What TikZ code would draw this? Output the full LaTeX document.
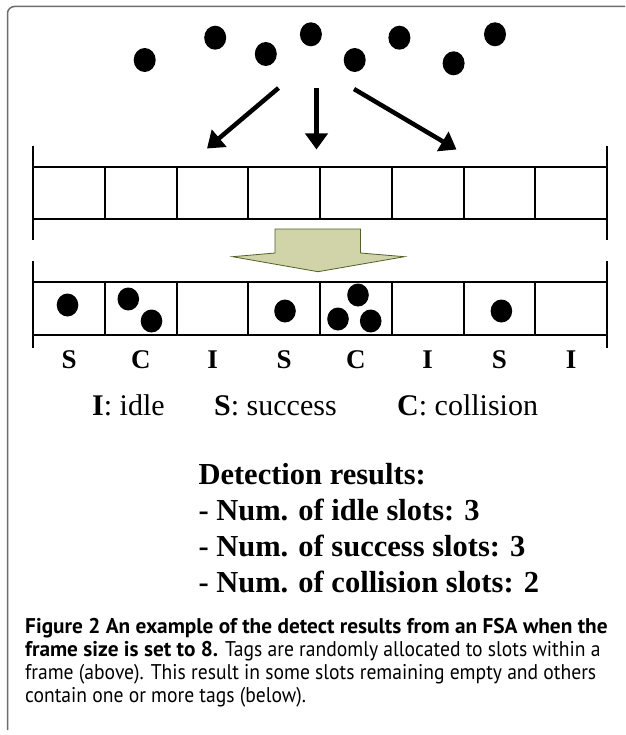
\documentclass[tikz,border=0pt]{standalone}
\usepackage{fontspec}
\setmainfont{Liberation Serif}
\newfontfamily\capreg[FakeStretch=0.92]{PT Sans}
\newfontfamily\capbf{PT Sans}
\usetikzlibrary{arrows.meta}
\definecolor{framegray}{RGB}{110,110,110}
\definecolor{arrowfill}{RGB}{209,211,168}
\definecolor{arrowedge}{RGB}{79,98,40}
\begin{document}
\begin{tikzpicture}[x=1pt,y=-1pt,
  barline/.style={line width=2pt},
  flowarrow/.style={line width=4.5pt, -{Triangle[length=16pt,width=22pt]}},
  slotlabel/.style={font=\fontsize{27}{32}\selectfont\bfseries, anchor=base, inner sep=0pt},
  legendtext/.style={font=\fontsize{30}{36}\selectfont, anchor=base west, inner sep=0pt},
  resulttext/.style={font=\fontsize{30.5}{36}\selectfont\bfseries, anchor=base west, inner sep=0pt},
  captext/.style={font=\capreg\fontsize{21.3}{25}\selectfont, anchor=base west, inner sep=0pt}
]
\useasboundingbox (0,0) rectangle (625,735);
\fill[white] (0,0) rectangle (625,735);

% outer frame (open on the right and bottom)
\draw[framegray, line width=1.5pt, rounded corners=7pt] (7.5,730) -- (7.5,6.5) -- (625,6.5);

% tags above the frame
\foreach \x/\y in {144.7/60, 215.2/37.7, 265.8/54, 310.9/34.3, 354.7/60, 399.4/37.7, 453.6/63.3, 495/34.3}
  \fill (\x,\y) ellipse [x radius=11pt, y radius=12pt];

% arrows from tags to slots
\coordinate (aLs) at (278.5,88);  \coordinate (aLe) at (207,148.5);
\coordinate (aMs) at (316.5,88);  \coordinate (aMe) at (316.5,149.5);
\coordinate (aRs) at (354,89);    \coordinate (aRe) at (456.5,149.5);
\draw[flowarrow] (aLs) -- (aLe);
\draw[flowarrow] (aMs) -- (aMe);
\draw[flowarrow] (aRs) -- (aRe);

% upper frame of slots
\def\xl{33.3}
\def\xr{606.9}
\def\sw{71.7}
\draw[barline] (\xl,166.7) -- (\xr,166.7);
\draw[barline] (\xl,219) -- (\xr,219);
\draw[barline] (\xl,145.7) -- (\xl,240.3);
\draw[barline] (\xr,145.7) -- (\xr,240.3);
\foreach \i in {1,...,7}
  \draw[barline] ({\xl+\i*\sw},166.7) -- ({\xl+\i*\sw},219);

% big transition arrow
\draw[arrowedge, fill=arrowfill, line width=0.8pt]
  (275,229) -- (360.5,229) -- (360.5,253) -- (404.5,256.7) -- (318,271.7)
  -- (232.5,256.7) -- (275,253) -- cycle;

% lower frame of slots
\draw[barline] (\xl,282.3) -- (\xr,282.3);
\draw[barline] (\xl,335.3) -- (\xr,335.3);
\draw[barline] (\xl,261) -- (\xl,347.7);
\draw[barline] (\xr,261) -- (\xr,347.7);
\foreach \i in {1,...,7}
  \draw[barline] ({\xl+\i*\sw},282.3) -- ({\xl+\i*\sw},335.3);

% tags inside the slots
\foreach \x/\y in {67.5/305, 128.3/299, 151.5/321, 285/311, 358/295, 338/319, 370.7/321, 501.4/311}
  \fill (\x,\y) ellipse [x radius=10.8pt, y radius=11.5pt];

% slot labels
\foreach \t [count=\i] in {S,C,I,S,C,I,S,I}
  \node[slotlabel] (lab\i) at ({\xl+(\i-0.5)*\sw},368.3) {\t};

% legend
\node[legendtext] (legI) at (92,415) {\textbf{I}: idle};
\node[legendtext] (legS) at (214,415) {\textbf{S}: success};
\node[legendtext] (legC) at (397,415) {\textbf{C}: collision};

% detection results
\node[resulttext] (res0) at (198.3,484.3) {Detection results:};
\node[resulttext] (res1) at (198.3,520.5) {- Num. of idle slots: 3};
\node[resulttext] (res2) at (198.3,556) {- Num. of success slots: 3};
\node[resulttext] (res3) at (198.3,592) {- Num. of collision slots: 2};

% caption
\node[captext] (cap1) at (25,633.5) {\capbf\bfseries Figure 2 An example of the detect results from an FSA when the};
\node[captext] (cap2) at (25,656.5) {{\capbf\bfseries frame size is set to 8.} Tags are randomly allocated to slots within a};
\node[captext] (cap3) at (25,679.5) {frame (above). This result in some slots remaining empty and others};
\node[captext] (cap4) at (25,702.5) {contain one or more tags (below).};
\end{tikzpicture}
\end{document}
